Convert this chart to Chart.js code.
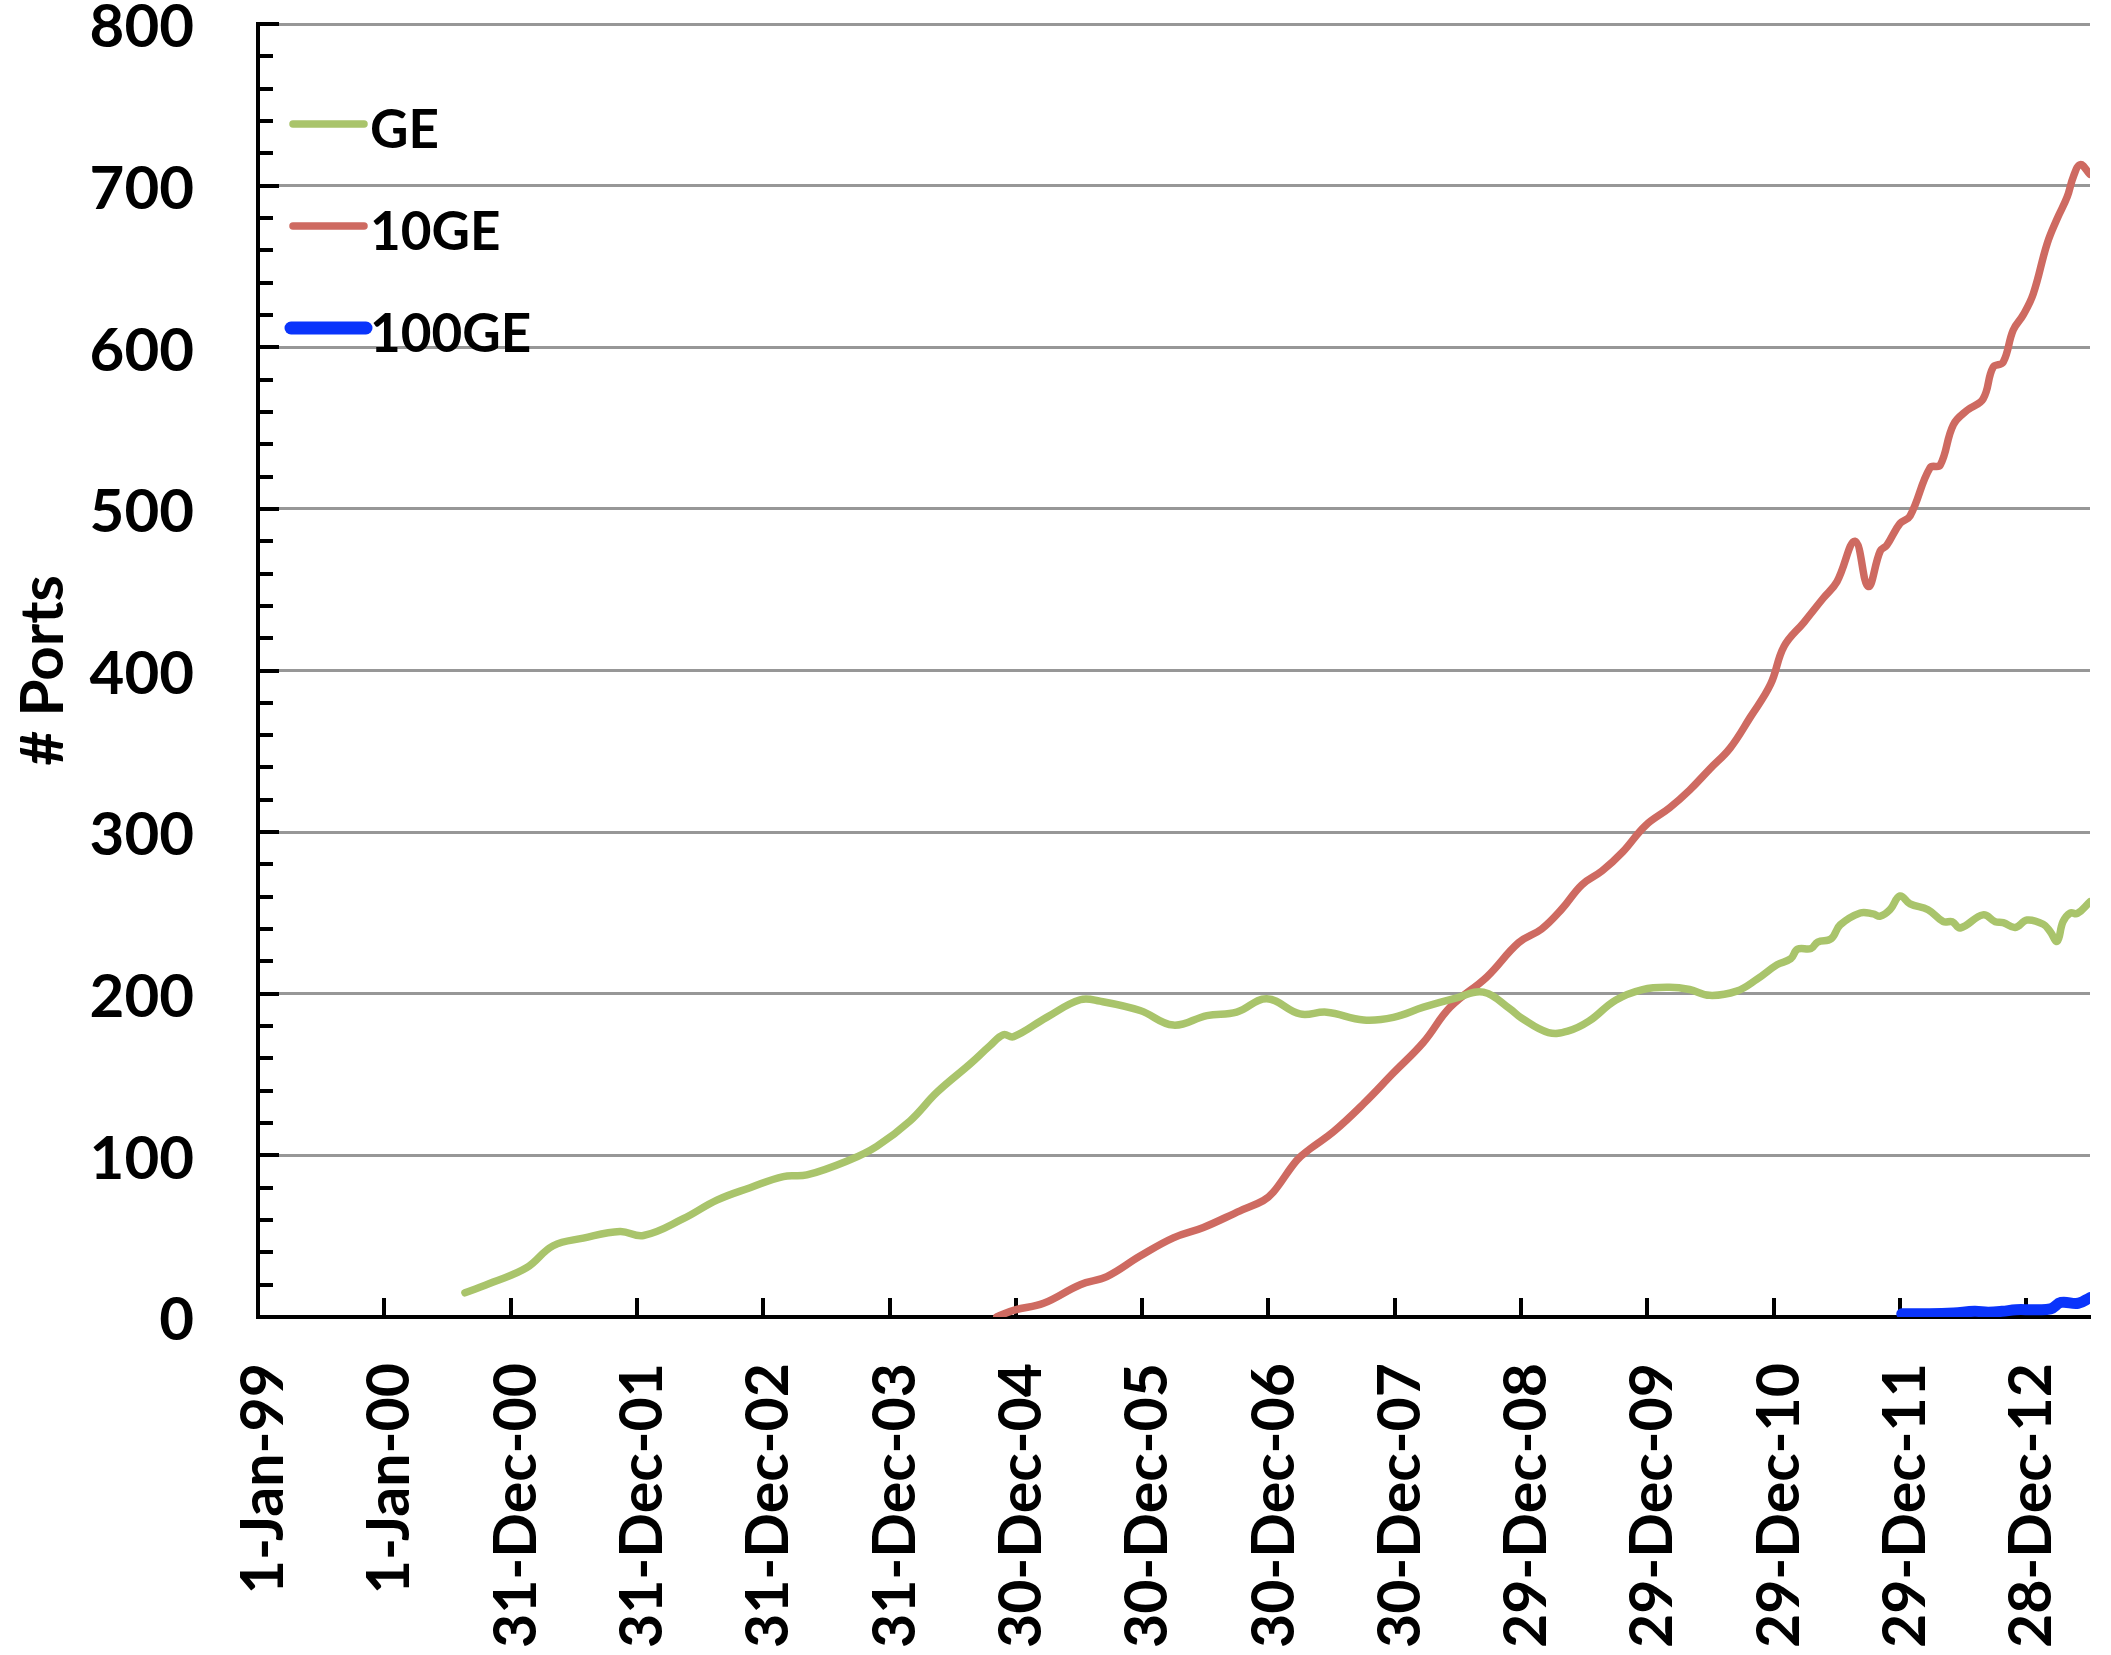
<!DOCTYPE html>
<html>
<head>
<meta charset="utf-8">
<script src="https://cdn.jsdelivr.net/npm/chart.js@4.4.1/dist/chart.umd.min.js"></script>
<style>
html,body{margin:0;padding:0;background:#fff;overflow:hidden;}
canvas{display:block;}
</style>
</head>
<body>
<canvas id="c" width="2111" height="1655"></canvas>
<script>
// x values are days since 1-Jan-99
const xTickDays = [0,365,730,1095,1460,1825,2190,2555,2920,3285,3650,4015,4380,4745,5110];
const xTickLabels = ['1-Jan-99','1-Jan-00','31-Dec-00','31-Dec-01','31-Dec-02','31-Dec-03','30-Dec-04','30-Dec-05','30-Dec-06','30-Dec-07','29-Dec-08','29-Dec-09','29-Dec-10','29-Dec-11','28-Dec-12'];
const xMaxDay = 5294;
const yMin = 0, yMax = 800, yMajorStep = 100, yMinorStep = 20;

const seriesNames = ['GE','10GE','100GE'];

const geDays =   [598,680,777,853,940,1046,1114,1229,1326,1422,1518,1586,1711,1788,1884,1962,2058,2115,2154,2183,2279,2376,2433,2549,2645,2742,2828,2915,3011,3088,3195,3281,3368,3464,3541,3618,3651,3729,3787,3846,3923,4001,4079,4137,4195,4273,4332,4390,4429,4449,4488,4507,4546,4572,4630,4667,4688,4716,4745,4774,4826,4870,4896,4919,4985,5020,5043,5078,5112,5159,5179,5199,5216,5237,5257,5294];
const geValues = [15,21.6,30.6,44.1,48.8,52.9,50.4,60.8,72.3,80,86.9,87.9,97.3,105.6,121.3,139,156.6,167.8,174.6,173.4,185.4,196.3,195.4,189.6,180.6,186.5,188.6,196.9,187.5,188.6,183.8,185.4,191.7,197.5,201,190.6,185,176,177,183,196,202.6,204,202.6,199,201.6,209,218,221.6,227.6,228,232,234,242.6,250,249.4,248,252,260.5,255.6,252,244.6,244.6,240.7,248.8,244.6,244,241,245.6,243,238.4,232.4,244.6,250,249.6,257];

const tenGeDays =   [2135,2188,2270,2376,2453,2549,2645,2732,2838,2905,2934,3002,3040,3108,3195,3281,3368,3445,3551,3643,3709,3768,3826,3884,3943,4009,4079,4137,4195,4254,4312,4371,4410,4468,4523,4563,4615,4653,4688,4707,4745,4774,4832,4861,4899,4939,4985,5014,5043,5072,5101,5130,5170,5199,5228,5246,5266,5294];
const tenGeValues = [0.2,4.4,8.5,20,25,37.7,49,55.4,65.7,72,77.2,97,104,114.7,132,151,170,191.7,210.4,231.6,240,252.5,267.5,276,287.6,304,315,326,339,352,371,391.5,415,430,444.7,455,480,452,474,477.6,491,495.6,525.5,527,552,561,568,587.6,590.7,610.6,620,633,664,679.5,693,705.6,713,707];

const hundredGeDays =   [4750,4830,4900,4960,5000,5040,5080,5130,5180,5210,5260,5294];
const hundredGeValues = [2,2,2.5,3.5,3,3.5,4.5,4.5,5,9,8.5,12];

const seriesColors = ['#a9c46b','#ce6a61','#0a34fb'];
const seriesWidths = [7.5,7.5,11];

function toPoints(days, values){ return days.map((d,i)=>({x:d, y:values[i]})); }

const legendAndTicks = {
  id: 'legendAndTicks',
  beforeDatasetsDraw(chart){
    const {ctx, chartArea, scales:{x, y}} = chart;
    ctx.save();
    ctx.strokeStyle = '#000';
    ctx.lineWidth = 4;
    ctx.beginPath();
    for (let v = yMin + yMinorStep; v <= yMax; v += yMinorStep) {
      const py = Math.round(y.getPixelForValue(v));
      const len = (v % yMajorStep === 0) ? 21 : 15;
      ctx.moveTo(chartArea.left, py);
      ctx.lineTo(chartArea.left + len, py);
    }
    for (let i = 1; i < xTickDays.length; i++) {
      const px = Math.round(x.getPixelForValue(xTickDays[i]));
      ctx.moveTo(px, chartArea.bottom);
      ctx.lineTo(px, chartArea.bottom - 19);
    }
    ctx.stroke();
    ctx.restore();
  },
  afterDraw(chart){
    const {ctx} = chart;
    ctx.save();
    chart.data.datasets.forEach((ds, i) => {
      const ly = 124 + 102 * i;
      ctx.strokeStyle = ds.borderColor;
      ctx.lineWidth = i === 2 ? 13 : 7.5;
      ctx.lineCap = 'round';
      ctx.beginPath();
      ctx.moveTo(i === 2 ? 291 : 293, ly);
      ctx.lineTo(i === 2 ? 366 : 364, ly);
      ctx.stroke();
      ctx.fillStyle = '#000';
      ctx.font = 'bold 53px Lato';
      ctx.textAlign = 'left';
      ctx.textBaseline = 'alphabetic';
      ctx.fillText(ds.label, 370, ly + 24);
    });
    ctx.restore();
  }
};

function build(){
  const datasets = [
    {days: geDays, values: geValues},
    {days: tenGeDays, values: tenGeValues},
    {days: hundredGeDays, values: hundredGeValues}
  ].map((s, i) => ({
    label: seriesNames[i],
    data: toPoints(s.days, s.values),
    borderColor: seriesColors[i],
    backgroundColor: seriesColors[i],
    borderWidth: seriesWidths[i],
    pointRadius: 0,
    pointHoverRadius: 0,
    tension: 0.4,
    fill: false,
    borderCapStyle: 'round',
    borderJoinStyle: 'round'
  }));

  new Chart(document.getElementById('c'), {
    type: 'line',
    data: { datasets },
    plugins: [legendAndTicks],
    options: {
      responsive: false,
      animation: false,
      devicePixelRatio: 1,
      layout: { padding: { top: 24, right: 21, bottom: 0, left: 0 } },
      plugins: { legend: { display: false }, tooltip: { enabled: false } },
      scales: {
        x: {
          type: 'linear',
          min: 0,
          max: xMaxDay,
          afterBuildTicks: s => { s.ticks = xTickDays.map(v => ({ value: v })); },
          afterFit: s => { s.height = 338; s.paddingLeft = 0; s.paddingRight = 0; },
          grid: { display: false, drawTicks: false },
          border: { display: true, color: '#000', width: 4 },
          ticks: {
            autoSkip: false, maxRotation: 90, minRotation: 90, padding: 46, labelOffset: 6,
            color: '#000',
            font: { family: 'Lato', weight: 'bold', size: 59 },
            callback: (v, i) => xTickLabels[i]
          }
        },
        y: {
          min: yMin,
          max: yMax,
          afterFit: s => { s.width = 258; s.paddingTop = 0; s.paddingBottom = 0; },
          grid: {
            color: c => (c.tick && c.tick.value === 0) ? 'rgba(0,0,0,0)' : '#979797',
            lineWidth: 3,
            drawTicks: false
          },
          border: { display: true, color: '#000', width: 4 },
          ticks: {
            stepSize: yMajorStep, padding: 64, labelOffset: 4,
            color: '#000',
            font: { family: 'Lato', weight: 'bold', size: 60 }
          },
          title: {
            display: true, text: '# Ports', color: '#000',
            font: { family: 'Lato', weight: 'bold', size: 60 },
            padding: { top: 8, bottom: 0 }
          }
        }
      }
    }
  });
}

if (document.fonts && document.fonts.load) {
  Promise.all([document.fonts.load('bold 60px Lato'), document.fonts.load('bold 53px Lato')]).then(build, build);
} else { build(); }
</script>
</body>
</html>
